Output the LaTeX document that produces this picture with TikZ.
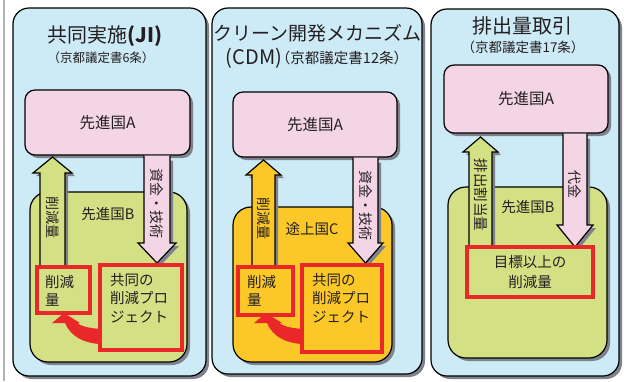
\documentclass[tikz,border=0pt]{standalone}
\usepackage{fontspec}
\setmainfont{Noto Sans CJK JP}
\usetikzlibrary{shadows}
\definecolor{panelblue}{RGB}{205,235,246}
\definecolor{pinkc}{RGB}{243,213,230}
\definecolor{greenc}{RGB}{212,224,132}
\definecolor{yellowc}{RGB}{252,200,40}
\definecolor{redc}{RGB}{234,40,42}
\definecolor{shgray}{RGB}{125,130,140}
\definecolor{txt}{RGB}{35,31,32}
\tikzset{
  base/.style={draw=black, line width=1.2pt, inner sep=0pt, text=txt,
    drop shadow={shadow xshift=3pt, shadow yshift=-3pt, fill=shgray, opacity=1}},
  panel/.style={base, fill=panelblue, rounded corners=16pt},
  pinkbox/.style={base, fill=pinkc, rounded corners=10pt, font=\fontsize{15.5}{18}\selectfont},
  greenbox/.style={base, fill=greenc, rounded corners=18pt},
  yellowbox/.style={base, fill=yellowc, rounded corners=18pt},
  redbox/.style={draw=redc, line width=3.3pt, inner sep=0pt},
  lbl/.style={text=txt, inner sep=0pt, font=\fontsize{14.5}{18.5}\selectfont},
  vlbl/.style={text=txt, inner sep=0pt, rotate=-90, font=\fontsize{14}{15}\selectfont},
  ttl/.style={text=txt, inner sep=0pt, font=\fontsize{20}{24}\selectfont},
  sub/.style={text=txt, inner sep=0pt, font=\fontsize{13}{15}\selectfont},
}
% up arrow: xl, xr, ybottom, yheadbase, ytip, ext, fill
\newcommand{\upArr}[7]{%
  \fill[shgray, shift={(3,3)}] (#1,#3) -- (#1,#4) -- ({#1-#6},#4) -- ({(#1+#2)/2},#5) -- ({#2+#6},#4) -- (#2,#4) -- (#2,#3) -- cycle;
  \filldraw[fill=#7, draw=black, line width=1.2pt] (#1,#3) -- (#1,#4) -- ({#1-#6},#4) -- ({(#1+#2)/2},#5) -- ({#2+#6},#4) -- (#2,#4) -- (#2,#3) -- cycle;}
% down arrow: xl, xr, ytop, yheadbase, ytip, ext, fill
\newcommand{\downArr}[7]{%
  \fill[shgray, shift={(3,3)}] (#1,{#3+2}) -- (#1,#4) -- ({#1-#6},#4) -- ({(#1+#2)/2},#5) -- ({#2+#6},#4) -- (#2,#4) -- (#2,{#3+2}) -- cycle;
  \fill[#7] (#1,#3) -- (#1,#4) -- ({#1-#6},#4) -- ({(#1+#2)/2},#5) -- ({#2+#6},#4) -- (#2,#4) -- (#2,#3) -- cycle;
  \draw[black, line width=1.2pt] (#1,#3) -- (#1,#4) -- ({#1-#6},#4) -- ({(#1+#2)/2},#5) -- ({#2+#6},#4) -- (#2,#4) -- (#2,#3);}
\newcommand{\curveArr}[1]{%
  \fill[redc, shift={(#1,0)}] (100,329) .. controls (88,328) and (81,326) .. (77,323) -- (80,323) -- (64,313) -- (52,323) -- (65,323) .. controls (71,337) and (84,343) .. (100,344) -- cycle;}
\begin{document}
\begin{tikzpicture}[x=1pt, y=-1pt]
\useasboundingbox (0,0) rectangle (624,381);
\draw[gray!60, line width=1.5pt] (4,0) -- (4,381);

% ---------- Panel 1 ----------
\node[panel, minimum width=193pt, minimum height=368pt] (P1) at (109.5,192) {};
\node[pinkbox, minimum width=165pt, minimum height=65pt] (A1) at (107.5,122.5) {先進国A};
\node[greenbox, minimum width=157pt, minimum height=170pt] (B1) at (108.5,277) {};
\upArr{40}{65}{267}{173}{157}{7}{greenc}
\downArr{144}{170}{155.6}{243}{263}{6}{pinkc}
\node[redbox, fill=greenc, minimum width=53pt, minimum height=46pt] (R11) at (63.5,290) {};
\node[redbox, fill=greenc, minimum width=82pt, minimum height=85pt] (R12) at (141,307.5) {};
\curveArr{0}
\node[ttl] (T1) at (105,36) {共同実施\textbf{(JI)}};
\node[sub, font=\fontsize{12.5}{15}\selectfont] (S1) at (101,58) {（京都議定書6条）};
\node[lbl] (LB1) at (108,214) {先進国B};
\node[lbl, anchor=north west, align=left] (L11) at (45,275) {削減\\量};
\node[lbl, anchor=north west, align=left] (L12) at (110,273) {共同の\\削減プロ\\ジェクト};
\node[vlbl] (V11) at (52.5,217) {削減量};
\node[vlbl] (V12) at (157,203) {資金・技術};

% ---------- Panel 2 ----------
\node[panel, minimum width=210pt, minimum height=366pt] (P2) at (317,191) {};
\node[pinkbox, minimum width=164pt, minimum height=65pt] (A2) at (315,124.5) {先進国A};
\node[yellowbox, minimum width=159pt, minimum height=155pt] (C2) at (312.5,284.5) {};
\upArr{252}{275}{267}{175}{160}{6}{yellowc}
\downArr{353}{378}{157.6}{243}{263}{5}{pinkc}
\node[redbox, fill=yellowc, minimum width=55pt, minimum height=48pt] (R21) at (265.5,291) {};
\node[redbox, fill=yellowc, minimum width=80pt, minimum height=87pt] (R22) at (342,308.5) {};
\curveArr{202}
\node[ttl, font=\fontsize{19}{24}\selectfont] (T2) at (317.5,33) {クリーン開発メカニズム};
\node[ttl] (T2b) at (254,58) {(CDM)};
\node[sub, font=\fontsize{14.5}{16}\selectfont] (S2) at (342,58) {（京都議定書12条）};
\node[lbl] (LC2) at (312,229) {途上国C};
\node[lbl, anchor=north west, align=left] (L21) at (247,275) {削減\\量};
\node[lbl, anchor=north west, align=left] (L22) at (312,273) {共同の\\削減プロ\\ジェクト};
\node[vlbl] (V21) at (263.5,218) {削減量};
\node[vlbl] (V22) at (365.5,205) {資金・技術};

% ---------- Panel 3 ----------
\node[panel, minimum width=188pt, minimum height=367pt] (P3) at (525,192.5) {};
\node[pinkbox, minimum width=164pt, minimum height=68pt] (A3) at (526,99) {先進国A};
\node[greenbox, minimum width=159pt, minimum height=171pt] (B3) at (527.5,272.5) {};
\upArr{469}{492}{247}{152}{137}{6}{greenc}
\downArr{563}{587}{133.6}{225}{247}{6}{pinkc}
\node[redbox, fill=greenc, minimum width=126pt, minimum height=50pt, align=center,
  font=\fontsize{14.5}{20.5}\selectfont, text=txt] (R3) at (530,272) {目標以上の\\削減量};
\node[ttl] (T3) at (522,26) {排出量取引};
\node[sub, font=\fontsize{13.5}{15}\selectfont] (S3) at (523,47) {（京都議定書17条）};
\node[lbl] (LB3) at (528,207) {先進国B};
\node[vlbl, font=\fontsize{14.5}{15}\selectfont] (V31) at (480.5,195) {排出割当量};
\node[vlbl] (V32) at (575,184) {代金};
\end{tikzpicture}
\end{document}
